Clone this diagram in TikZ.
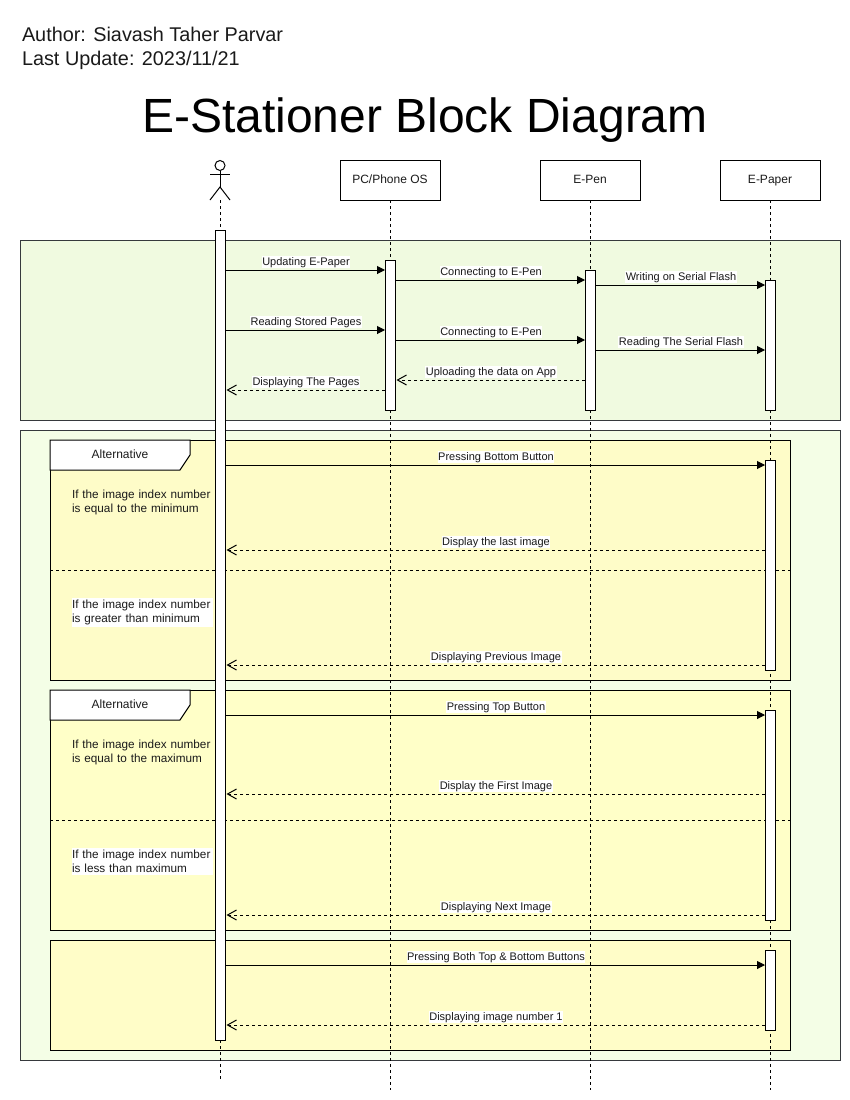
\documentclass[tikz,border=0pt]{standalone}
\usepackage{fontspec}
\setmainfont{Liberation Sans}
\usetikzlibrary{arrows.meta}
\definecolor{grnA}{HTML}{F0FAE0}
\definecolor{grnB}{HTML}{F4FEE6}
\definecolor{grnEdge}{HTML}{36393D}
\definecolor{yelA}{HTML}{FEFCC8}
\definecolor{yelB}{HTML}{FFFFC8}
\definecolor{yelC}{HTML}{FFFDC8}
\definecolor{txt}{HTML}{1A1A1A}
\tikzset{
  every node/.style={outer sep=0pt,inner sep=0pt},
  group/.style={draw=grnEdge,line width=1pt,anchor=north west,minimum width=820pt},
  framebox/.style={draw=black,line width=1pt,anchor=north west,minimum width=740pt},
  head/.style={draw=black,fill=white,line width=1pt,minimum width=100pt,minimum height=40pt,text height=9pt,text depth=2.5pt,font=\fontsize{12}{14}\selectfont,text=txt},
  life/.style={draw=black,line width=1pt,dash pattern=on 3pt off 3pt},
  bar/.style={draw=black,fill=white,line width=1pt,minimum width=10pt,anchor=north},
  call/.style={draw=black,line width=1pt,-{Triangle[length=8pt,width=8pt]}},
  back/.style={draw=black,line width=1pt,dash pattern=on 3pt off 3pt,shorten >=1.5pt,-{Straight Barb[length=9pt,width=10pt]}},
  lab/.style={midway,yshift=8pt,xshift=1pt,fill=white,inner xsep=0.5pt,inner ysep=0.5pt,text height=8.5pt,text depth=2.5pt,font=\fontsize{11}{13}\selectfont,text=txt},
  note/.style={anchor=north west,align=left,text width=141pt,inner ysep=2.5pt,text=txt,font=\fontsize{11.75}{14}\selectfont},
  altlab/.style={text height=9pt,text depth=2.5pt,font=\fontsize{12}{14}\selectfont,text=txt},
  divider/.style={draw=black,line width=1pt,dash pattern=on 3pt off 3pt}
}
\begin{document}
\begin{tikzpicture}[x=1pt,y=-1pt]
\useasboundingbox (0,0) rectangle (850,1100);
% text
\node[anchor=north west,align=left,text=txt,font=\fontsize{19.85}{24}\selectfont] (author) at (22,27) {Author: Siavash Taher Parvar\\Last Update: 2023/11/21};
\node[font=\fontsize{48}{56}\selectfont] (title) at (425,120) {E-Stationer Block Diagram};
% groups
\node[group,fill=grnA,minimum height=180pt] (g1) at (20,240) {};
\node[group,fill=grnB,minimum height=630pt] (g2) at (20,430) {};
% frames
\node[framebox,fill=yelA,minimum height=240pt] (alt1) at (50,440) {};
\node[framebox,fill=yelB,minimum height=240pt] (alt2) at (50,690) {};
\node[framebox,fill=yelC,minimum height=110pt] (alt3) at (50,940) {};
\draw[divider] ([yshift=-130pt]alt1.north west) -- ([yshift=-130pt]alt1.north east);
\draw[divider] ([yshift=-130pt]alt2.north west) -- ([yshift=-130pt]alt2.north east);
\draw[draw=black,fill=white,line width=1pt] (alt1.north west) -- ++(140,0) -- ++(0,15) -- ++(-10,15) -- ++(-130,0) -- cycle;
\draw[draw=black,fill=white,line width=1pt] (alt2.north west) -- ++(140,0) -- ++(0,15) -- ++(-10,15) -- ++(-130,0) -- cycle;
\node[altlab] (alt1t) at (120,455.5) {Alternative};
\node[altlab] (alt2t) at (120,705.5) {Alternative};
\node[note] (n1) at (72,487.5) {\mbox{If the image index number}\\is equal to the minimum};
\node[note,fill=white] (n2) at (72,597.5) {\mbox{If the image index number}\\is greater than minimum};
\node[note] (n3) at (72,737.5) {\mbox{If the image index number}\\is equal to the maximum};
\node[note,fill=white] (n4) at (72,847.5) {\mbox{If the image index number}\\is less than maximum};
% heads
\node[head] (pc) at (390,180) {PC/Phone OS};
\node[head] (pen) at (590,180) {E-Pen};
\node[head] (paper) at (770,180) {E-Paper};
\coordinate (user) at (220,200);
\draw[line width=1pt] (220,165.5) circle (5);
\draw[line width=1pt] (210,174) -- (230,174);
\draw[line width=1pt] (220,170.5) -- (220,187);
\draw[line width=1pt] (210,200) -- (220,187) -- (230,200);
% lifelines
\coordinate (userEnd) at (220,1080);
\coordinate (pcEnd) at (390,1090);
\coordinate (penEnd) at (590,1090);
\coordinate (paperEnd) at (770,1090);
\draw[life] (user) -- (userEnd);
\draw[life] (pc) -- (pcEnd);
\draw[life] (pen) -- (penEnd);
\draw[life] (paper) -- (paperEnd);
% activations
\node[bar,minimum height=810pt] (aU) at (220,230) {};
\node[bar,minimum height=150pt] (aPC) at (390,260) {};
\node[bar,minimum height=140pt] (aPen) at (590,270) {};
\node[bar,minimum height=130pt] (aP1) at (770,280) {};
\node[bar,minimum height=210pt] (aP2) at (770,460) {};
\node[bar,minimum height=210pt] (aP3) at (770,710) {};
\node[bar,minimum height=80pt] (aP4) at (770,950) {};
% messages top group
\draw[call] ([yshift=-40pt]aU.north east) -- node[lab] {Updating E-Paper} ([yshift=-10pt]aPC.north west);
\draw[call] ([yshift=-20pt]aPC.north east) -- node[lab] {Connecting to E-Pen} ([yshift=-10pt]aPen.north west);
\draw[call] ([yshift=-15pt]aPen.north east) -- node[lab] {Writing on Serial Flash} ([yshift=-5pt]aP1.north west);
\draw[call] ([yshift=-100pt]aU.north east) -- node[lab] {Reading Stored Pages} ([yshift=-70pt]aPC.north west);
\draw[call] ([yshift=-80pt]aPC.north east) -- node[lab] {Connecting to E-Pen} ([yshift=-70pt]aPen.north west);
\draw[call] ([yshift=-80pt]aPen.north east) -- node[lab] {Reading The Serial Flash} ([yshift=-70pt]aP1.north west);
\draw[back] ([yshift=-110pt]aPen.north west) -- node[lab] {Uploading the data on App} ([yshift=-120pt]aPC.north east);
\draw[back] ([yshift=-130pt]aPC.north west) -- node[lab] {Displaying The Pages} ([yshift=-160pt]aU.north east);
% messages lower groups
\draw[call] ([yshift=-235pt]aU.north east) -- node[lab] {Pressing Bottom Button} ([yshift=-5pt]aP2.north west);
\draw[back] ([yshift=-90pt]aP2.north west) -- node[lab] {Display the last image} ([yshift=-320pt]aU.north east);
\draw[back] ([yshift=-205pt]aP2.north west) -- node[lab] {Displaying Previous Image} ([yshift=-435pt]aU.north east);
\draw[call] ([yshift=-485pt]aU.north east) -- node[lab] {Pressing Top Button} ([yshift=-5pt]aP3.north west);
\draw[back] ([yshift=-84pt]aP3.north west) -- node[lab] {Display the First Image} ([yshift=-564pt]aU.north east);
\draw[back] ([yshift=-205pt]aP3.north west) -- node[lab] {Displaying Next Image} ([yshift=-685pt]aU.north east);
\draw[call] ([yshift=-735pt]aU.north east) -- node[lab] {Pressing Both Top \& Bottom Buttons} ([yshift=-15pt]aP4.north west);
\draw[back] ([yshift=-75pt]aP4.north west) -- node[lab] {Displaying image number 1} ([yshift=-795pt]aU.north east);
\end{tikzpicture}
\end{document}
